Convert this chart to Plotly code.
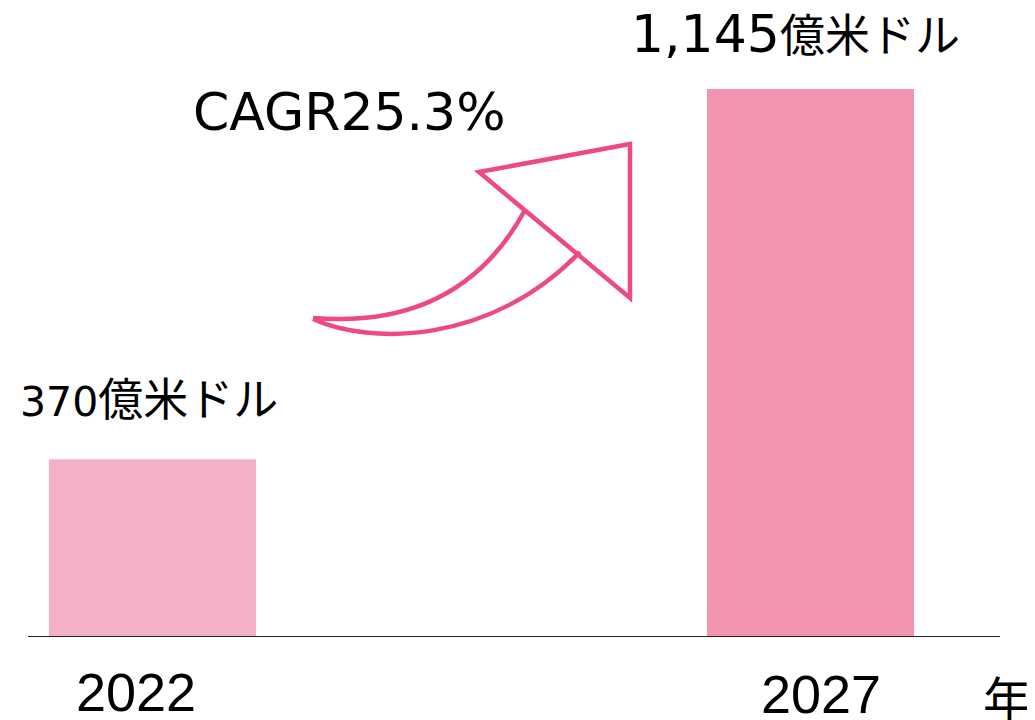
import plotly.graph_objects as go

years = [2022, 2027]
values = [370, 1145]
value_nums = ["370", "1,145"]
value_unit = "億米ドル"
bar_colors = ["#F4B0C4", "#F293AF"]
cagr_label = "CAGR25.3%"
unit_label = "年"

# page body has an 8px offset; figure pixel = screen pixel - 8
OFF = 8
W, H = 1035, 720
ML, MR, MT, MB = 20, 43, 0, 92
PW = W - ML - MR
PH = H - MT - MB

def px(sx, sy):
    fx, fy = sx - OFF, sy - OFF
    return ((fx - ML) / PW, (H - MB - fy) / PH)

def path(cmds):
    out = []
    for c in cmds:
        if isinstance(c, str):
            out.append(c)
        else:
            a, b = px(*c)
            out.append(f"{a:.5f},{b:.5f}")
    return " ".join(out)

fig = go.Figure()
fig.add_trace(go.Bar(
    x=years, y=values, width=1.573,
    marker=dict(color=bar_colors, line=dict(width=0)),
    hoverinfo="skip",
))

CJK = "Noto Sans CJK JP"
LAT = "DejaVu Sans"
ann = []

def value_text(num, numsize):
    return (f'<span style="font-family:{LAT};font-size:{numsize}px">{num}</span>'
            f'{value_unit}')

ann.append(dict(x=years[0], y=values[0], xref="x", yref="y",
                text=value_text(value_nums[0], 41),
                showarrow=False, xanchor="center", yanchor="bottom", xshift=-3, yshift=28,
                font=dict(family=CJK, size=45, color="#000", weight=400)))
ann.append(dict(x=years[1], y=values[1], xref="x", yref="y",
                text=value_text(value_nums[1], 52),
                showarrow=False, xanchor="center", yanchor="bottom", xshift=-15, yshift=22,
                font=dict(family=CJK, size=45, color="#000", weight=400)))
cx, cy = px(349.5, 112)
ann.append(dict(x=cx, y=cy, xref="paper", yref="paper", text=cagr_label, showarrow=False,
                xanchor="center", yanchor="middle",
                font=dict(family=LAT, size=52, color="#000", weight=400)))
# year labels
for yr, sx, sy in [(years[0], 135.5, 692), (years[1], 821, 694)]:
    ax, ay = px(sx, sy)
    ann.append(dict(x=ax, y=ay, xref="paper", yref="paper", text=str(yr), showarrow=False,
                    xanchor="center", yanchor="middle",
                    font=dict(family="Liberation Sans", size=54, color="#000", weight=400)))
ux, uy = px(1007, 696)
ann.append(dict(x=ux, y=uy, xref="paper", yref="paper", text=unit_label, showarrow=False,
                xanchor="center", yanchor="middle",
                font=dict(family=CJK, size=48, color="#000", weight=400)))

arrow_color = "#EE4A7C"
shapes = [
    dict(type="path", xref="paper", yref="paper",
         path=path(["M", (313, 318), "Q", (460, 330), (525, 210)]),
         line=dict(color=arrow_color, width=4.5)),
    dict(type="path", xref="paper", yref="paper",
         path=path(["M", (313, 319), "C", (370, 345), (490, 345), (580, 252)]),
         line=dict(color=arrow_color, width=4.5)),
    dict(type="path", xref="paper", yref="paper",
         path=path(["M", (479, 172), "L", (630, 144), "L", (630, 298), "Z"]),
         line=dict(color=arrow_color, width=4.5)),
]

fig.update_layout(
    width=W, height=H,
    margin=dict(l=ML, r=MR, t=MT, b=MB),
    paper_bgcolor="white", plot_bgcolor="white",
    showlegend=False,
    annotations=ann, shapes=shapes,
    xaxis=dict(range=[2021.054, 2028.44], showticklabels=False, showgrid=False,
               zeroline=False, showline=True, linecolor="#222", linewidth=1.3, ticks=""),
    yaxis=dict(range=[0, 1145 * PH / 547], visible=False, showgrid=False, zeroline=False),
)

fig.write_html("out.html")
